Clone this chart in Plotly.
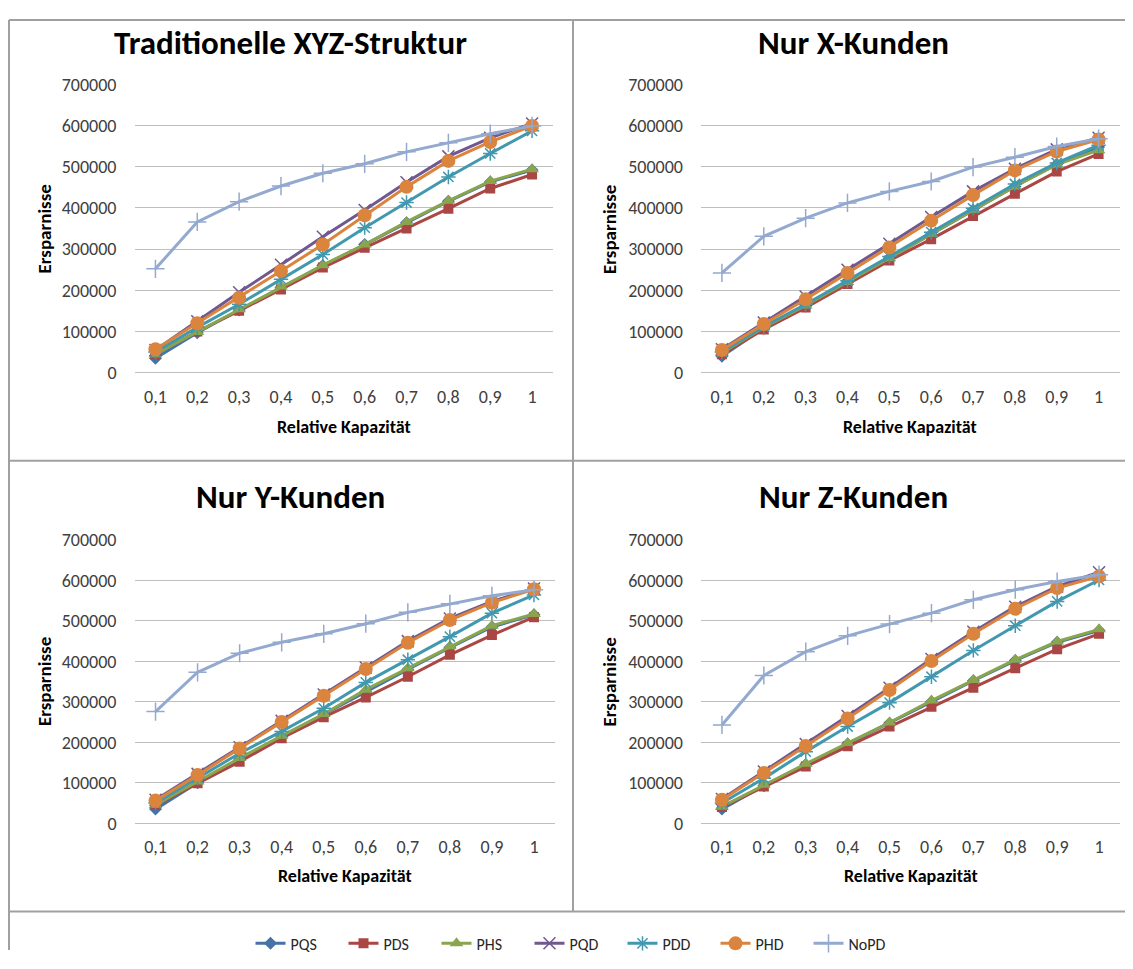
import plotly.graph_objects as go

# Browser page has an 8px body margin; figure is sized to fit inside it.
OFF = 8
W, H = 1133 - 2 * OFF, 969 - 2 * OFF

categories = ["0,1", "0,2", "0,3", "0,4", "0,5", "0,6", "0,7", "0,8", "0,9", "1"]
series_names = ["PQS", "PDS", "PHS", "PQD", "PDD", "PHD", "NoPD"]

panel_titles = ["Traditionelle XYZ-Struktur", "Nur X-Kunden", "Nur Y-Kunden", "Nur Z-Kunden"]

# Panel 1: Traditionelle XYZ-Struktur
trad_PQS = [35000, 97000, 152000, 207000, 260000, 311000, 364000, 416000, 463000, 492000]
trad_PDS = [45000, 100000, 150000, 202000, 255000, 303000, 350000, 398000, 447000, 481000]
trad_PHS = [45000, 99000, 154000, 209000, 261000, 311000, 366000, 417000, 465000, 494000]
trad_PQD = [55000, 125000, 195000, 262000, 330000, 395000, 462000, 525000, 570000, 605000]
trad_PDD = [50000, 110000, 166000, 227000, 287000, 352000, 413000, 475000, 532000, 587000]
trad_PHD = [57000, 120000, 182000, 247000, 311000, 382000, 451000, 514000, 560000, 599000]
trad_NoPD = [252000, 366000, 415000, 453000, 484000, 507000, 536000, 558000, 580000, 599000]

# Panel 2: Nur X-Kunden
x_PQS = [40000, 108000, 162000, 220000, 278000, 336000, 394000, 452000, 506000, 548000]
x_PDS = [45000, 105000, 158000, 215000, 272000, 324000, 380000, 434000, 488000, 531000]
x_PHS = [48000, 110000, 163000, 220000, 278000, 337000, 395000, 452000, 505000, 540000]
x_PQD = [57000, 122000, 185000, 250000, 313000, 378000, 440000, 495000, 542000, 570000]
x_PDD = [50000, 112000, 166000, 223000, 282000, 341000, 399000, 458000, 509000, 552000]
x_PHD = [55000, 118000, 178000, 242000, 304000, 369000, 431000, 491000, 537000, 566000]
x_NoPD = [242000, 331000, 375000, 412000, 440000, 464000, 499000, 523000, 549000, 568000]

# Panel 3: Nur Y-Kunden
y_PQS = [35000, 100000, 158000, 214000, 268000, 325000, 380000, 434000, 485000, 515000]
y_PDS = [45000, 99000, 152000, 210000, 262000, 311000, 362000, 416000, 465000, 509000]
y_PHS = [45000, 103000, 161000, 216000, 270000, 330000, 383000, 437000, 488000, 517000]
y_PQD = [58000, 122000, 188000, 253000, 318000, 385000, 450000, 506000, 548000, 580000]
y_PDD = [50000, 112000, 173000, 227000, 284000, 348000, 404000, 461000, 519000, 564000]
y_PHD = [56000, 119000, 185000, 250000, 315000, 381000, 446000, 502000, 545000, 578000]
y_NoPD = [276000, 373000, 420000, 447000, 468000, 493000, 521000, 542000, 562000, 577000]

# Panel 4: Nur Z-Kunden
z_PQS = [35000, 93000, 145000, 196000, 247000, 300000, 352000, 402000, 447000, 476000]
z_PDS = [40000, 91000, 140000, 190000, 239000, 288000, 335000, 383000, 430000, 468000]
z_PHS = [41000, 95000, 147000, 198000, 249000, 303000, 354000, 404000, 449000, 479000]
z_PQD = [60000, 128000, 196000, 265000, 335000, 406000, 473000, 535000, 585000, 620000]
z_PDD = [50000, 111000, 177000, 239000, 298000, 362000, 427000, 488000, 548000, 601000]
z_PHD = [58000, 124000, 191000, 259000, 329000, 401000, 468000, 530000, 581000, 610000]
z_NoPD = [243000, 365000, 424000, 463000, 492000, 519000, 552000, 577000, 597000, 614000]

panels = [
    [trad_PQS, trad_PDS, trad_PHS, trad_PQD, trad_PDD, trad_PHD, trad_NoPD],
    [x_PQS, x_PDS, x_PHS, x_PQD, x_PDD, x_PHD, x_NoPD],
    [y_PQS, y_PDS, y_PHS, y_PQD, y_PDD, y_PHD, y_NoPD],
    [z_PQS, z_PDS, z_PHS, z_PQD, z_PDD, z_PHD, z_NoPD],
]

colors = ["#4572A7", "#AA4643", "#89A54E", "#71588F", "#4198AF", "#DB843D", "#93A9CF"]
symbols = ["diamond", "square", "triangle-up", "x-thin-open", "asterisk-open", "circle", "cross-thin-open"]
msizes = [10, 10, 12, 12, 12, 14, 13]

FONT = "Carlito, Calibri, Lato, sans-serif"


def px_x(p):
    return (p - OFF) / W


def fig_y(p):
    # map a target screen row to a figure row (empirical vertical correction)
    return (p - 12) / 0.9756 - OFF


def px_y(p):
    return 1 - fig_y(p) / H


# plot-area geometry (page pixels of the reference)
xdoms = [(134.5, 553), (701, 1119.5), (134.5, 555), (701, 1120)]
ydoms = [(373, 85), (373, 85), (823, 540), (823, 540)]

fig = go.Figure()

for i, data in enumerate(panels):
    xa = "x" if i == 0 else f"x{i+1}"
    ya = "y" if i == 0 else f"y{i+1}"
    for j, name in enumerate(series_names):
        sym = symbols[j]
        open_sym = sym.endswith("-open")
        fig.add_trace(go.Scatter(
            x=categories, y=data[j], name=name, mode="lines+markers",
            xaxis=xa, yaxis=ya, showlegend=(i == 0),
            line=dict(color=colors[j], width=3),
            marker=dict(symbol=sym, size=msizes[j], color=colors[j],
                        line=dict(color=colors[j], width=1.5 if open_sym else 0)),
        ))

layout = dict(
    width=W, height=H,
    margin=dict(l=0, r=0, t=0, b=0),
    paper_bgcolor="white", plot_bgcolor="white",
    font=dict(family=FONT, color="#404040"),
    legend=dict(orientation="h", x=px_x(576), xanchor="center", y=px_y(943), yanchor="middle",
                font=dict(size=16, color="#262626", family=FONT),
                entrywidth=48, bgcolor="rgba(0,0,0,0)"),
)

for i in range(4):
    sx = "" if i == 0 else str(i + 1)
    x0, x1 = xdoms[i]
    yb, yt = ydoms[i]
    layout[f"xaxis{sx}"] = dict(
        domain=[px_x(x0), px_x(x1)], anchor=f"y{sx}", type="category",
        range=[-0.5, 9.5], showgrid=False, zeroline=False, showline=False,
        ticks="", tickfont=dict(size=18, color="#404040", family=FONT),
        ticklabelstandoff=11, fixedrange=True,
    )
    layout[f"yaxis{sx}"] = dict(
        domain=[px_y(yb), px_y(yt)], anchor=f"x{sx}", range=[0, 700000],
        dtick=100000, showgrid=True, gridcolor="#BFBFBF", gridwidth=1,
        zeroline=True, zerolinecolor="#BFBFBF", zerolinewidth=1, showline=False,
        ticks="", tickformat="d", tickfont=dict(size=18, color="#404040", family=FONT),
        ticklabelstandoff=17, fixedrange=True,
    )

annotations = []
title_pos = [(290, 44), (853, 44), (290, 497), (853, 497)]
for i, t in enumerate(panel_titles):
    cx, cy = title_pos[i]
    annotations.append(dict(text=f"<b>{t}</b>", x=px_x(cx), y=px_y(cy), xref="paper", yref="paper",
                             showarrow=False, xanchor="center", yanchor="middle",
                             font=dict(size=33, color="#000000", family=FONT)))
xt_pos = [((134.5 + 553) / 2, 427), ((701 + 1119.5) / 2, 427), ((134.5 + 555) / 2, 876), ((701 + 1120) / 2, 876)]
for cx, cy in xt_pos:
    annotations.append(dict(text="<b>Relative Kapazität</b>", x=px_x(cx), y=px_y(cy), xref="paper", yref="paper",
                             showarrow=False, xanchor="center", yanchor="middle",
                             font=dict(size=18, color="#000000", family=FONT)))
yt_pos = [(44, 230), (609.5, 230), (44, 682), (609.5, 682)]
for cx, cy in yt_pos:
    annotations.append(dict(text="<b>Ersparnisse</b>", x=px_x(cx), y=px_y(cy), xref="paper", yref="paper",
                             showarrow=False, xanchor="center", yanchor="middle", textangle=-90,
                             font=dict(size=19, color="#000000", family=FONT)))
layout["annotations"] = annotations

border = dict(color="#A0A0A0", width=2)
top_y = 1 - 1 / H
shapes = [
    dict(type="line", xref="paper", yref="paper", x0=px_x(9), x1=1, y0=top_y, y1=top_y, line=border),
    dict(type="line", xref="paper", yref="paper", x0=px_x(9), x1=px_x(9), y0=top_y, y1=0, line=border),
    dict(type="line", xref="paper", yref="paper", x0=px_x(573), x1=px_x(573), y0=top_y, y1=px_y(911), line=border),
    dict(type="line", xref="paper", yref="paper", x0=px_x(9), x1=1, y0=px_y(461), y1=px_y(461), line=border),
    dict(type="line", xref="paper", yref="paper", x0=px_x(9), x1=1, y0=px_y(911), y1=px_y(911), line=border),
]
layout["shapes"] = shapes

fig.update_layout(**layout)
fig.write_html("out.html")
